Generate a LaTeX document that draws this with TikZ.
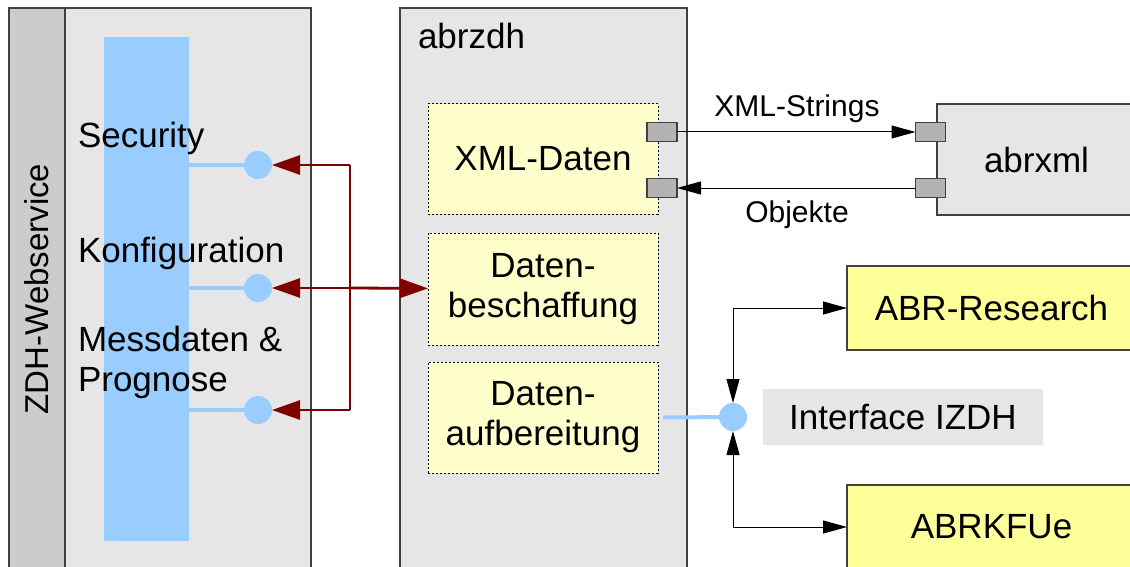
\documentclass[tikz,border=0pt]{standalone}
\usepackage{fontspec}
\setmainfont{Liberation Sans}
\usetikzlibrary{arrows.meta}
\definecolor{boxgray}{HTML}{E6E6E6}
\definecolor{stripgray}{HTML}{CCCCCC}
\definecolor{portgray}{HTML}{B3B3B3}
\definecolor{ifblue}{HTML}{99CCFF}
\definecolor{paleyellow}{HTML}{FFFFCC}
\definecolor{extyellow}{HTML}{FFFF99}
\definecolor{darkred}{HTML}{800000}
\definecolor{rim}{HTML}{404040}

\begin{document}
\begin{tikzpicture}[x=0.5pt, y=-0.5pt,
  every node/.style={inner sep=0pt, outer sep=0pt, font=\fontsize{17.5}{20}\selectfont},
  comp/.style={draw=rim, line width=0.75pt, fill=boxgray},
  part/.style={draw=black, dash pattern=on 1pt off 1pt, line width=0.5pt, fill=paleyellow, minimum width=115pt, align=center},
  port/.style={draw=rim, line width=0.6pt, fill=portgray, minimum width=15pt, minimum height=9.5pt},
  extsys/.style={draw=rim, line width=0.75pt, fill=extyellow, minimum width=144.5pt, minimum height=42pt},
  lolli/.style={circle, fill=ifblue, minimum size=14pt},
  stick/.style={ifblue, line width=2pt},
  redline/.style={darkred, line width=1.4pt, >={Triangle[length=14pt, width=9.5pt]}},
  msg/.style={black, line width=0.5pt, >={Triangle[length=12pt, width=6.5pt]}},
  small/.style={font=\fontsize{15}{18}\selectfont}
]
\useasboundingbox (0,0) rectangle (1130,567);
\clip (0,0) rectangle (1130,567);

\node[comp, minimum width=151pt, minimum height=291pt] (zdh) at (160,299) {};
\node[comp, fill=stripgray, minimum width=28pt, minimum height=291pt] (strip) at (37,299) {};
\node[rotate=90, font=\fontsize{16.5}{20}\selectfont] (zdhl) at (37,289) {ZDH-Webservice};
\node[fill=ifblue, minimum width=42.5pt, minimum height=252pt] (bar) at (146.5,289) {};
\node[anchor=base west] (secl) at (78,148) {Security};
\node[anchor=base west] (konl) at (78,262) {Konfiguration};
\node[anchor=base west] (msdl) at (78,351) {Messdaten \&};
\node[anchor=base west] (prgl) at (78,391) {Prognose};

\foreach \n/\y in {sec/165, kon/288, msd/410} {
  \node[lolli] (\n c) at (258,\y) {};
  \draw[stick] (bar.east |- \n c) -- (\n c);
}

\node[comp, minimum width=143.5pt, minimum height=291pt] (abrzdh) at (543.5,299) {};
\node[anchor=base west] (abrzdhl) at (418,49) {abrzdh};
\node[part, minimum height=55pt] (xmld) at (543,159) {XML-Daten};
\node[part, minimum height=56pt] (besch) at (543,289) {Daten-\\beschaffung};
\node[part, minimum height=55.5pt] (aufb) at (543,417.5) {Daten-\\aufbereitung};

\coordinate (jn) at (350,288);
\draw[redline] (jn |- secc) -- (jn |- msdc);
\foreach \n in {secc, konc, msdc}
  \draw[redline, ->] (jn |- \n) -- (\n);
\draw[redline, ->] (jn) -- (besch);

\node[comp, minimum width=99.5pt, minimum height=55.5pt] (abrxml) at (1036.5,159.5) {abrxml};
\node[port] (pa1) at (662,132) {};
\node[port] (pa2) at (662,188) {};
\node[port] (pb1) at (930.5,132) {};
\node[port] (pb2) at (930.5,188) {};
\draw[msg, ->] (pa1) -- (pb1);
\draw[msg, ->] (pb2) -- (pa2);
\node[small, anchor=base] (strl) at (797,117) {XML-Strings};
\node[small, anchor=base] (objl) at (797,222) {Objekte};

\node[lolli] (ifc) at (733,417) {};
\draw[stick] ([xshift=2.5pt]aufb.east) -- (ifc);
\node[fill=boxgray, minimum width=140pt, minimum height=28pt] (ifl) at (903,417) {Interface IZDH};
\node[extsys] (abrr) at (991.5,308) {ABR-Research};
\node[extsys] (abrk) at (991.5,527) {ABRKFUe};
\draw[msg, <->] (ifc) |- (abrr);
\draw[msg, <->] (ifc) |- (abrk);

\end{tikzpicture}
\end{document}
